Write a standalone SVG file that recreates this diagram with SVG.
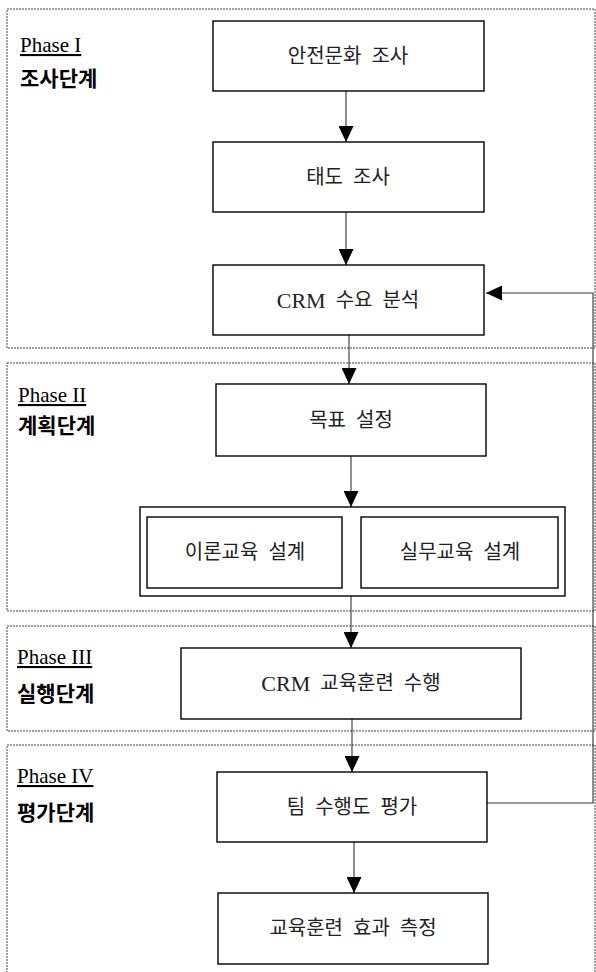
<svg xmlns="http://www.w3.org/2000/svg" width="596" height="972" viewBox="0 0 596 972">
<style>
.phase{fill:none;stroke:#444;stroke-width:1;stroke-dasharray:2 1}
.box{fill:#fff;stroke:#000;stroke-width:1.4}
.lbl{font-family:"Liberation Serif","Noto Sans CJK KR",serif;font-size:20px;fill:#222;text-anchor:middle;dominant-baseline:central;word-spacing:5px}
.crm{font-size:22px}
.ph{font-family:"Liberation Serif",serif;font-size:21px;fill:#000;text-decoration:underline}
.pk{font-family:"Noto Sans CJK KR",sans-serif;font-size:21px;font-weight:bold;fill:#000}
.conn{fill:none;stroke:#333;stroke-width:1.1}
</style>
<defs>
<marker id="ah" markerUnits="userSpaceOnUse" markerWidth="16" markerHeight="15" refX="16" refY="7.5" orient="auto">
<path d="M0,0 L16,7.5 L0,15 Z" fill="#000"/>
</marker>
</defs>
<g id="phases">
<rect class="phase" x="7" y="9" width="588" height="339"/>
<rect class="phase" x="7" y="363" width="588" height="248"/>
<rect class="phase" x="7" y="626" width="588" height="105"/>
<rect class="phase" x="7" y="745" width="588" height="240"/>
<text class="ph" x="20" y="52">Phase I</text>
<text class="pk" x="20" y="86">조사단계</text>
<text class="ph" x="18" y="402">Phase II</text>
<text class="pk" x="18" y="433">계획단계</text>
<text class="ph" x="17" y="664">Phase III</text>
<text class="pk" x="17" y="701">실행단계</text>
<text class="ph" x="17" y="783">Phase IV</text>
<text class="pk" x="17" y="820">평가단계</text>
</g>
<g id="connectors">
<line class="conn" x1="346" y1="91" x2="346" y2="142" marker-end="url(#ah)"/>
<line class="conn" x1="346" y1="212" x2="346" y2="265" marker-end="url(#ah)"/>
<line class="conn" x1="349" y1="335" x2="349" y2="384" marker-end="url(#ah)"/>
<line class="conn" x1="351" y1="456" x2="351" y2="507" marker-end="url(#ah)"/>
<line class="conn" x1="351" y1="596" x2="351" y2="648" marker-end="url(#ah)"/>
<line class="conn" x1="352" y1="719" x2="352" y2="772" marker-end="url(#ah)"/>
<line class="conn" x1="354" y1="842" x2="354" y2="893" marker-end="url(#ah)"/>
<polyline class="conn" points="487,803 593,803 593,293 486,293" marker-end="url(#ah)"/>
</g>
<g id="n1"><rect class="box" x="213" y="21" width="271" height="70"/><text class="lbl" x="348" y="56">안전문화 조사</text></g>
<g id="n2"><rect class="box" x="213" y="142" width="271" height="70"/><text class="lbl" x="348" y="177">태도 조사</text></g>
<g id="n3"><rect class="box" x="213" y="265" width="271" height="70"/><text class="lbl" x="348" y="300"><tspan class="crm">CRM</tspan> 수요 분석</text></g>
<g id="n4"><rect class="box" x="216" y="384" width="270" height="72"/><text class="lbl" x="351" y="420">목표 설정</text></g>
<g id="n5">
<rect class="box" x="140" y="507" width="425" height="89"/>
<rect class="box" x="147" y="517" width="195" height="71"/>
<text class="lbl" x="245" y="552">이론교육 설계</text>
<rect class="box" x="361" y="517" width="197" height="71"/>
<text class="lbl" x="460" y="552">실무교육 설계</text>
</g>
<g id="n6"><rect class="box" x="181" y="648" width="340" height="71"/><text class="lbl" x="351" y="683"><tspan class="crm">CRM</tspan> 교육훈련 수행</text></g>
<g id="n7"><rect class="box" x="217" y="772" width="270" height="70"/><text class="lbl" x="352" y="807">팀 수행도 평가</text></g>
<g id="n8"><rect class="box" x="218" y="893" width="270" height="71"/><text class="lbl" x="353" y="928">교육훈련 효과 측정</text></g>
</svg>
